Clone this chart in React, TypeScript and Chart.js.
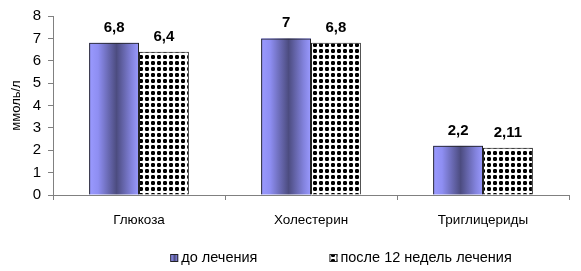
import React, { useEffect, useRef } from "react";
import { Chart, registerables } from "chart.js";

Chart.register(...registerables);

const categories = ["Глюкоза", "Холестерин", "Триглицериды"];
const seriesNames = ["до лечения", "после 12 недель лечения"];
const beforeValues = [6.8, 7, 2.2];
const afterValues = [6.4, 6.8, 2.11];
const valueLabelsBefore = ["6,8", "7", "2,2"];
const valueLabelsAfter = ["6,4", "6,8", "2,11"];
const yTicks = [0, 1, 2, 3, 4, 5, 6, 7, 8];

const FONT = "'Liberation Sans', Arial, sans-serif";

function makeGradient(ctx: CanvasRenderingContext2D, x0: number, x1: number) {
  const g = ctx.createLinearGradient(x0, 0, x1, 0);
  g.addColorStop(0, "#9a9aff");
  g.addColorStop(0.18, "#8e8ef2");
  g.addColorStop(0.55, "#4c4c80");
  g.addColorStop(0.85, "#8282dc");
  g.addColorStop(1, "#9a9aff");
  return g;
}

function makePattern(): CanvasPattern | string {
  const c = document.createElement("canvas");
  c.width = 6;
  c.height = 6;
  const cx = c.getContext("2d");
  if (!cx) return "#000";
  cx.fillStyle = "#ffffff";
  cx.fillRect(0, 0, 6, 6);
  cx.fillStyle = "#000000";
  cx.fillRect(1, 1, 4, 4);
  cx.fillStyle = "#666666";
  cx.fillRect(1, 1, 1, 1);
  cx.fillRect(4, 1, 1, 1);
  cx.fillRect(1, 4, 1, 1);
  cx.fillRect(4, 4, 1, 1);
  const p = cx.createPattern(c, "repeat");
  return p || "#000";
}

export default function App() {
  const ref = useRef<HTMLCanvasElement | null>(null);
  useEffect(() => {
    document.body.style.margin = "0";
    const canvas = ref.current;
    if (!canvas) return;
    const pattern = makePattern();

    const gradientPlugin = {
      id: "gradFill",
      beforeDatasetsDraw(chart: any) {
        const ctx = chart.ctx;
        const meta = chart.getDatasetMeta(0);
        meta.data.forEach((bar: any) => {
          const p = bar.getProps(["x", "y", "base", "width"], true);
          const x0 = p.x - p.width / 2;
          const x1 = p.x + p.width / 2;
          ctx.save();
          ctx.fillStyle = makeGradient(ctx, x0, x1);
          ctx.fillRect(x0, p.y, p.width, p.base - p.y);
          ctx.restore();
        });
      },
    };

    const labelsPlugin = {
      id: "valueLabels",
      afterDatasetsDraw(chart: any) {
        const ctx = chart.ctx;
        const sets = [valueLabelsBefore, valueLabelsAfter];
        ctx.save();
        ctx.font = `bold 15px ${FONT}`;
        ctx.fillStyle = "#000";
        ctx.textAlign = "center";
        ctx.textBaseline = "alphabetic";
        sets.forEach((labels, di) => {
          const meta = chart.getDatasetMeta(di);
          meta.data.forEach((bar: any, i: number) => {
            ctx.fillText(labels[i], bar.x, bar.y - 11);
          });
        });
        ctx.restore();
      },
    };

    const legendPlugin = {
      id: "customLegend",
      afterDraw(chart: any) {
        const ctx = chart.ctx;
        ctx.save();
        ctx.font = `14.5px ${FONT}`;
        ctx.textBaseline = "middle";
        ctx.fillStyle = "#000";
        const box = 8;
        const gap = 3;
        const itemGap = 72;
        const widths = seriesNames.map((n) => ctx.measureText(n).width);
        const total = widths.reduce((a, w) => a + box + gap + w, 0) + itemGap;
        let x = (chart.chartArea.left + chart.chartArea.right) / 2 + 30 - total / 2;
        const y = 258;
        seriesNames.forEach((name, i) => {
          ctx.fillStyle = i === 0 ? makeGradient(ctx, x, x + box) : pattern;
          ctx.fillRect(x, y - box / 2, box, box);
          ctx.strokeStyle = "#222";
          ctx.lineWidth = 1;
          ctx.strokeRect(x + 0.5, y - box / 2 + 0.5, box - 1, box - 1);
          ctx.fillStyle = "#000";
          ctx.fillText(name, x + box + gap, y);
          x += box + gap + widths[i] + itemGap;
        });
        ctx.restore();
      },
    };

    const chart = new Chart(canvas, {
      type: "bar",
      data: {
        labels: categories,
        datasets: [
          {
            label: seriesNames[0],
            data: beforeValues,
            backgroundColor: "rgba(0,0,0,0)",
            borderColor: "#222",
            borderWidth: 1,
            categoryPercentage: 0.58,
            barPercentage: 1,
          },
          {
            label: seriesNames[1],
            data: afterValues,
            backgroundColor: pattern as any,
            borderColor: "#222",
            borderWidth: 1,
            categoryPercentage: 0.58,
            barPercentage: 1,
          },
        ],
      },
      options: {
        animation: false,
        responsive: false,
        maintainAspectRatio: false,
        layout: { padding: { top: 14, right: 12, bottom: 36, left: 0 } },
        plugins: {
          legend: { display: false },
          tooltip: { enabled: false },
        },
        scales: {
          x: {
            grid: {
              offset: true,
              drawOnChartArea: false,
              drawTicks: true,
              tickLength: 5,
              color: "#808080",
            },
            border: { display: true, color: "#808080" },
            ticks: {
              color: "#000",
              font: { family: FONT, size: 13.5 },
              padding: 12,
              maxRotation: 0,
            },
            afterFit(scale: any) {
              scale.height = 40;
            },
          },
          y: {
            min: 0,
            max: 8,
            afterBuildTicks(scale: any) {
              scale.ticks = yTicks.map((v) => ({ value: v }));
            },
            grid: {
              drawOnChartArea: false,
              drawTicks: true,
              tickLength: 5,
              color: "#808080",
            },
            border: { display: true, color: "#808080" },
            ticks: {
              color: "#000",
              font: { family: FONT, size: 15 },
              padding: 7,
            },
            title: {
              display: true,
              text: "ммоль/л",
              color: "#000",
              font: { family: FONT, size: 13 },
              padding: { top: 9, bottom: 0 },
            },
            afterFit(scale: any) {
              scale.width = 53;
            },
          },
        },
      },
      plugins: [gradientPlugin, labelsPlugin, legendPlugin],
    });
    return () => chart.destroy();
  }, []);
  return (
    <div style={{ width: 581, height: 271, background: "#fff" }}>
      <canvas ref={ref} width={581} height={271} style={{ display: "block" }} />
    </div>
  );
}
